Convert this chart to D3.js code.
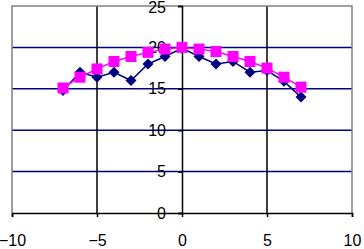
<!DOCTYPE html>
<html>
<head>
<meta charset="utf-8">
<script src="https://cdn.jsdelivr.net/npm/d3@7"></script>
<style>
  body { margin: 0; background: #fff; }
  text { font-family: "Liberation Sans", Arial, sans-serif; }
</style>
</head>
<body>
<div id="chart"></div>
<script>
var xValues = [-7, -6, -5, -4, -3, -2, -1, 0, 1, 2, 3, 4, 5, 6, 7];
var seriesA = [14.8, 17.0, 16.4, 17.0, 16.0, 18.0, 18.9, 19.9, 18.9, 18.0, 18.3, 17.0, 17.2, 15.9, 14.0];
var seriesB = [15.1, 16.4, 17.4, 18.3, 18.9, 19.4, 19.8, 20.0, 19.8, 19.5, 18.9, 18.3, 17.5, 16.4, 15.2];
var xTicks = [-10, -5, 0, 5, 10];
var yTicks = [0, 5, 10, 15, 20, 25];

var width = 364, height = 249;
var margin = {top: 6, right: 12, bottom: 36, left: 12};

var svg = d3.select("#chart")
    .append("svg")
    .attr("width", width)
    .attr("height", height);

var x = d3.scaleLinear()
    .domain([-10, 10])
    .range([margin.left, width - margin.right]);

var y = d3.scaleLinear()
    .domain([0, 25])
    .range([height - margin.bottom, margin.top]);

// horizontal gridlines
svg.append("g")
    .selectAll("line")
    .data(yTicks.filter(function(d){ return d > 0 && d < 25 }))
    .enter().append("line")
    .attr("x1", x(-10)).attr("x2", x(10))
    .attr("y1", function(d){ return y(d) })
    .attr("y2", function(d){ return y(d) })
    .attr("stroke", "#000080")
    .attr("stroke-width", 1.5);

// vertical gridlines
svg.append("g")
    .selectAll("line")
    .data([-5, 5])
    .enter().append("line")
    .attr("x1", function(d){ return x(d) })
    .attr("x2", function(d){ return x(d) })
    .attr("y1", y(25)).attr("y2", y(0))
    .attr("stroke", "#000")
    .attr("stroke-width", 1.5);

// plot border (gray)
svg.append("path")
    .attr("d", "M" + x(-10) + "," + y(0) + "V" + y(25) + "H" + x(10) + "V" + y(0))
    .attr("fill", "none")
    .attr("stroke", "#808080")
    .attr("stroke-width", 1.5);

// x axis
var xAxis = svg.append("g")
    .attr("transform", "translate(0," + y(0) + ")")
    .call(d3.axisBottom(x).tickValues(xTicks).tickSize(4).tickPadding(18));
xAxis.select(".domain").attr("stroke", "#000").attr("stroke-width", 1.5);
xAxis.selectAll(".tick line").attr("stroke", "#000").attr("stroke-width", 1.5);
xAxis.selectAll("text")
    .attr("font-size", 16)
    .attr("font-family", "'Liberation Sans', Arial, sans-serif")
    .attr("fill", "#000");

// y axis
var yAxis = svg.append("g")
    .attr("transform", "translate(" + x(0) + ",0)")
    .call(d3.axisLeft(y).tickValues(yTicks).tickSize(4).tickPadding(12));
yAxis.select(".domain").attr("stroke", "#000").attr("stroke-width", 1.5);
yAxis.selectAll(".tick line").attr("stroke", "#000").attr("stroke-width", 1.5);
yAxis.selectAll("text")
    .attr("font-size", 16)
    .attr("font-family", "'Liberation Sans', Arial, sans-serif")
    .attr("fill", "#000")
    .attr("dy", function(d){ return d === 25 ? "0.42em" : "0.32em" });

var line = d3.line()
    .x(function(d){ return x(d[0]) })
    .y(function(d){ return y(d[1]) });

var dataA = xValues.map(function(v, i){ return [v, seriesA[i]] });
var dataB = xValues.map(function(v, i){ return [v, seriesB[i]] });

// navy series with diamonds
svg.append("path")
    .datum(dataA)
    .attr("fill", "none")
    .attr("stroke", "#000080")
    .attr("stroke-width", 1.5)
    .attr("d", line);

svg.append("g")
    .selectAll("path")
    .data(dataA)
    .enter().append("path")
    .attr("transform", function(d){ return "translate(" + x(d[0]) + "," + y(d[1]) + ")" })
    .attr("d", "M0,-5.5L5.5,0L0,5.5L-5.5,0Z")
    .attr("fill", "#000080");

// magenta series with squares
svg.append("path")
    .datum(dataB)
    .attr("fill", "none")
    .attr("stroke", "#ff00ff")
    .attr("stroke-width", 1.5)
    .attr("d", line);

svg.append("g")
    .selectAll("rect")
    .data(dataB)
    .enter().append("rect")
    .attr("x", function(d){ return x(d[0]) - 5.5 })
    .attr("y", function(d){ return y(d[1]) - 5.5 })
    .attr("width", 11)
    .attr("height", 11)
    .attr("fill", "#ff00ff");
</script>
</body>
</html>
